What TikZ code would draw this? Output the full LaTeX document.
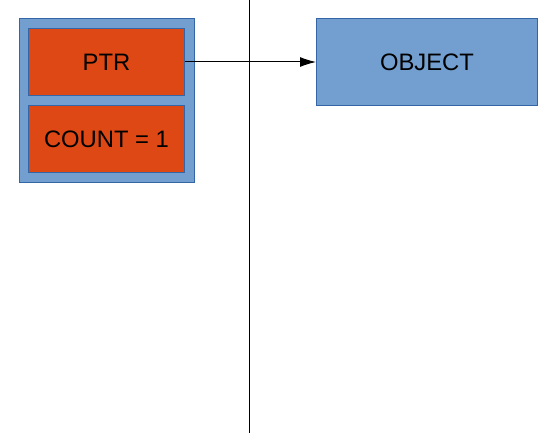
\documentclass[tikz,border=0pt]{standalone}
\usepackage{fontspec}
\setmainfont{Liberation Sans}
\usetikzlibrary{arrows.meta}
\definecolor{boxblue}{HTML}{729FCF}
\definecolor{edgeblue}{HTML}{3465A4}
\definecolor{boxorange}{HTML}{DE4815}

\begin{document}
\begin{tikzpicture}[x=1pt, y=-1pt, line width=1pt,
    font=\fontsize{23.8}{28}\selectfont,
    holder/.style={rectangle, draw=edgeblue, fill=boxblue, minimum width=175pt, minimum height=163pt, inner sep=0pt},
    field/.style={rectangle, draw=edgeblue, fill=boxorange, minimum width=156pt, minimum height=67pt, inner sep=0pt},
    target/.style={rectangle, draw=edgeblue, fill=boxblue, minimum width=221pt, minimum height=86pt, inner sep=0pt}]
        \useasboundingbox (0,0) rectangle (553,433);
        \node[holder] (H) at (106.5,100.5) {};
        \node[field] (P) at (106.5,62) {PTR};
        \node[field] (C) at (106.5,139) {COUNT = 1};
        \node[target] (O) at (427,62) {OBJECT};
        \coordinate (top) at (249.5,0);
        \coordinate (bottom) at (249.5,433);
        \draw (top) -- (bottom);
        \draw[-{Latex[length=16pt, width=10pt]}] (P) -- (O);
    \end{tikzpicture}
\end{document}
